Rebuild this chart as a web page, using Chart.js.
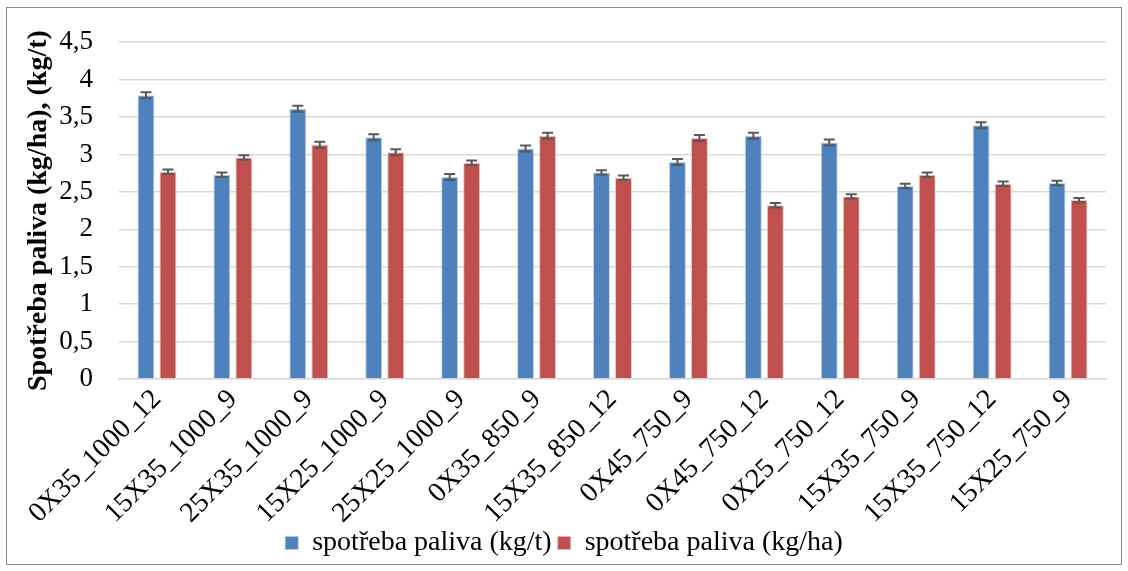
<!DOCTYPE html>
<html>
<head>
<meta charset="utf-8">
<script src="https://cdn.jsdelivr.net/npm/chart.js@4/dist/chart.umd.min.js"></script>
<style>
html,body{margin:0;padding:0;background:#fff;}
#wrap{width:1128px;height:571px;position:relative;}
</style>
</head>
<body>
<div id="wrap"><canvas id="c" width="1128" height="571"></canvas></div>
<script>
const categories = ["0X35_1000_12","15X35_1000_9","25X35_1000_9","15X25_1000_9","25X25_1000_9","0X35_850_9","15X35_850_12","0X45_750_9","0X45_750_12","0X25_750_12","15X35_750_9","15X35_750_12","15X25_750_9"];
const seriesNames = ["spotřeba paliva (kg/t)","spotřeba paliva (kg/ha)"];
const fuelPerTon = [3.79,2.73,3.61,3.23,2.70,3.08,2.76,2.90,3.25,3.16,2.58,3.39,2.62];
const fuelPerHa  = [2.77,2.96,3.13,3.03,2.89,3.25,2.69,3.22,2.32,2.44,2.73,2.61,2.39];
const errPerTon  = [0.04,0.03,0.04,0.04,0.04,0.04,0.03,0.04,0.04,0.04,0.03,0.04,0.03];
const errPerHa   = [0.03,0.03,0.04,0.04,0.03,0.04,0.03,0.04,0.03,0.03,0.03,0.03,0.03];
const yTicks = [0,0.5,1,1.5,2,2.5,3,3.5,4,4.5];
const yTitle = "Spotřeba paliva (kg/ha), (kg/t)";

const FONT = "Liberation Serif";
Chart.defaults.font.family = FONT;
Chart.defaults.font.weight = 'normal';
Chart.defaults.color = '#000';

const errorBars = {
  id:'errorBars',
  afterDatasetsDraw(chart){
    const ctx = chart.ctx;
    const ys = chart.scales.y;
    const errs = [errPerTon, errPerHa];
    chart.data.datasets.forEach((ds, di) => {
      const meta = chart.getDatasetMeta(di);
      meta.data.forEach((bar, i) => {
        const v = ds.data[i], e = errs[di][i];
        const yt = ys.getPixelForValue(v + e), yb = ys.getPixelForValue(v - e);
        const x = bar.x;
        ctx.save();
        ctx.strokeStyle = '#595959';
        ctx.lineWidth = 2;
        ctx.beginPath();
        ctx.moveTo(x, yt); ctx.lineTo(x, yb);
        ctx.moveTo(x - 5.5, yt); ctx.lineTo(x + 5.5, yt);
        ctx.moveTo(x - 5.5, yb); ctx.lineTo(x + 5.5, yb);
        ctx.stroke();
        ctx.restore();
      });
    });
  }
};

const frame = {
  id:'frame',
  beforeDraw(chart){
    const ctx = chart.ctx;
    ctx.save();
    ctx.fillStyle = '#fff';
    ctx.fillRect(0,0,chart.width,chart.height);
    ctx.strokeStyle = '#868686';
    ctx.lineWidth = 1;
    ctx.strokeRect(6.5, 7.5, 1115, 557);
    ctx.restore();
  }
};

new Chart(document.getElementById('c'), {
  type:'bar',
  data:{
    labels: categories,
    datasets:[
      {label: seriesNames[0], data: fuelPerTon, backgroundColor:'#4F81BD', borderColor:'rgba(180,200,230,0.8)', borderWidth:1, categoryPercentage:0.58, barPercentage:0.77},
      {label: seriesNames[1], data: fuelPerHa, backgroundColor:'#C0504D', borderColor:'rgba(230,185,185,0.8)', borderWidth:1, categoryPercentage:0.58, barPercentage:0.77}
    ]
  },
  options:{
    responsive:false,
    animation:false,
    layout:{padding:{left:22,right:22,top:28,bottom:4}},
    plugins:{
      legend:{
        position:'bottom',
        labels:{
          font:{family:FONT,size:28,weight:'normal'},
          color:'#000',
          boxWidth:13, boxHeight:13,
          padding:6
        }
      },
      tooltip:{enabled:false}
    },
    scales:{
      x:{
        grid:{display:false, drawTicks:false},
        border:{display:true,color:'#D9D9D9',width:1.5},
        ticks:{
          font:{family:FONT,size:28,weight:'normal'}, color:'#000',
          maxRotation:45, minRotation:45, autoSkip:false, padding:4
        },
        afterFit(scale){ scale.height = 144; }
      },
      y:{
        min:0, max:4.5,
        afterBuildTicks(scale){ scale.ticks = yTicks.map(v=>({value:v})); },
        grid:{color:'#D9D9D9', lineWidth:1.5, drawTicks:false},
        border:{display:false},
        ticks:{
          font:{family:FONT,size:27,weight:'normal'}, color:'#000', padding:26,
          callback:(v)=>String(v).replace('.',',')
        },
        title:{
          display:true, text:yTitle,
          font:{family:FONT,size:28,weight:'bold'}, color:'#000', padding:{top:0,bottom:2}
        },
        afterFit(scale){ scale.width = 97; }
      }
    }
  },
  plugins:[frame, errorBars]
});
</script>
</body>
</html>
